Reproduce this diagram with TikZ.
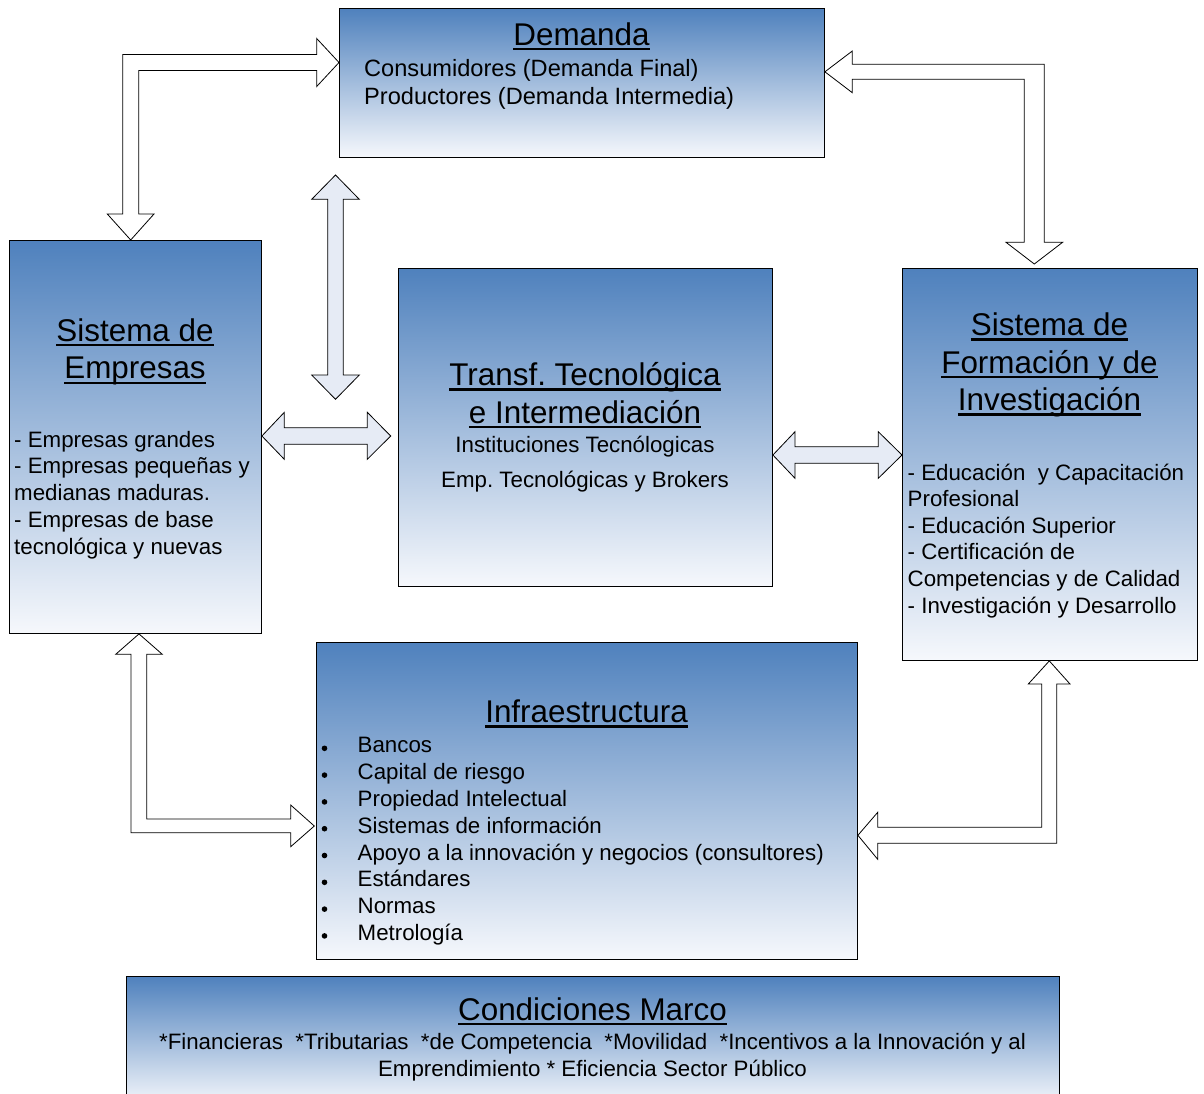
\documentclass[tikz,border=0pt]{standalone}
\usepackage{fontspec}
\setmainfont{Liberation Sans}
\usetikzlibrary{calc}
\definecolor{boxtop}{RGB}{79,129,189}
\definecolor{boxbot}{RGB}{246,248,252}
\definecolor{arrfill}{RGB}{230,235,245}
\newcommand{\ulx}[1]{\setbox0\hbox{#1}\rlap{\rule[-0.16em]{\wd0}{0.065em}}\box0}
\frenchspacing
\tikzset{
  box/.style={draw=black, line width=0.9pt, top color=boxtop, bottom color=boxbot, inner sep=0pt, anchor=north west},
  ttl/.style={font=\fontsize{31.4}{37.6}\selectfont, inner sep=0pt, anchor=base},
  bodyl/.style={font=\fontsize{22.3}{26.8}\selectfont, inner sep=0pt, anchor=base west},
  bodyc/.style={font=\fontsize{22.3}{26.8}\selectfont, inner sep=0pt, anchor=base},
  demb/.style={font=\fontsize{23.6}{28}\selectfont, inner sep=0pt, anchor=base west},
  bentarrow/.style={draw=black, line width=0.8pt, fill=white, line join=miter},
  dblarrow/.style={bentarrow, fill=arrfill},
}
\begin{document}
\begin{tikzpicture}[x=1pt,y=-1pt]
\useasboundingbox (0,0) rectangle (1204,1093);
\fill[white] (0,0) rectangle (1204,1093);

% boxes
\node[box, minimum width=485, minimum height=149] (dem) at (339,8) {};
\node[box, minimum width=252, minimum height=393] (emp) at (9,240) {};
\node[box, minimum width=374, minimum height=318] (tra) at (398,268) {};
\node[box, minimum width=295, minimum height=392] (for) at (902,268) {};
\node[box, minimum width=541, minimum height=317] (inf) at (316,642) {};
\node[box, minimum width=933, minimum height=130] (con) at (126,976) {};

% Demanda
\node[ttl] (demt) at (581.5,45) {\ulx{Demanda}};
\node[demb] (demb1) at (364,76.8) {Consumidores (Demanda Final)};
\node[demb] (demb2) at (364,104.2) {Productores (Demanda Intermedia)};

% Empresas
\node[ttl] (empt1) at (135,341.2) {\ulx{Sistema de}};
\node[ttl] (empt2) at (135,378.8) {\ulx{Empresas}};
\foreach \t [count=\i] in {{- Empresas grandes},{- Empresas pequeñas y},{medianas maduras.},{- Empresas de base},{tecnológica y nuevas}}
  \node[bodyl] (empb\i) at (14,{447.2+26.7*(\i-1)}) {\t};

% Transf
\node[ttl] (trat1) at (585,385.5) {\ulx{Transf. Tecnológica}};
\node[ttl] (trat2) at (585,423.2) {\ulx{e Intermediación}};
\node[bodyc] (trab1) at (585,452.2) {Instituciones Tecnólogicas};
\node[bodyc] (trab2) at (585,487.2) {Emp. Tecnológicas y Brokers};

% Formacion
\node[ttl] (fort1) at (1049.5,335.5) {\ulx{Sistema de}};
\node[ttl] (fort2) at (1049.5,373.2) {\ulx{Formación y de}};
\node[ttl] (fort3) at (1049.5,410.5) {\ulx{Investigación}};
\foreach \t [count=\i] in {{- Educación\ \ y Capacitación},{Profesional},{- Educación Superior},{- Certificación de},{Competencias y de Calidad},{- Investigación y Desarrollo}}
  \node[bodyl] (forb\i) at (907.5,{480+26.6*(\i-1)}) {\t};

% Infraestructura
\node[ttl] (inft) at (586.5,722.5) {\ulx{Infraestructura}};
\foreach \t [count=\i] in {{Bancos},{Capital de riesgo},{Propiedad Intelectual},{Sistemas de información},{Apoyo a la innovación y negocios (consultores)},{Estándares},{Normas},{Metrología}}{
  \node[bodyl] (infb\i) at (357.5,{752.8+26.8*(\i-1)}) {\t};
  \fill (324.5,{752.8+26.8*(\i-1)-4.5}) circle (2.8);
}

% Condiciones
\node[ttl] (cont) at (592.5,1020) {\ulx{Condiciones Marco}};
\node[bodyc] (conb1) at (592.5,1049.5) {*Financieras\ \ *Tributarias\ \ *de Competencia\ \ *Movilidad\ \ *Incentivos a la Innovación y al};
\node[bodyc] (conb2) at (592.5,1076.5) {Emprendimiento * Eficiencia Sector Público};

% bent arrow Empresas <-> Demanda
\draw[bentarrow] (122.7,54.5) -- (316.7,54.5) -- (316.7,38.5) -- (dem.west |- 0,62.5) -- (316.7,86.5) -- (316.7,70.5)
  -- (138.7,70.5) -- (138.7,214) -- (154,214) -- (130.7,0 |- emp.north) -- (107.3,214) -- (122.7,214) -- cycle;
% bent arrow Demanda <-> Formacion
\draw[bentarrow] (1044.3,64.3) -- (852.3,64.3) -- (852.3,51) -- (dem.east |- 0,71.8) -- (852.3,92.7) -- (852.3,79.3)
  -- (1024.3,79.3) -- (1024.3,242.3) -- (1006,242.3) -- (1034.3,264) -- (1062.6,242.3) -- (1044.3,242.3) -- cycle;
% vertical double arrow
\draw[dblarrow] (335.5,175) -- (359.3,199.3) -- (343.3,199.3) -- (343.3,375) -- (359.3,375) -- (335.5,399.3)
  -- (311.7,375) -- (327.7,375) -- (327.7,199.3) -- (311.7,199.3) -- cycle;
% Empresas <-> Transf
\draw[dblarrow] (emp.east |- 0,436) -- (284.3,412.3) -- (284.3,427.7) -- (367.3,427.7) -- (367.3,412.3) -- (390.7,436)
  -- (367.3,459.3) -- (367.3,444.3) -- (284.3,444.3) -- (284.3,459.3) -- cycle;
% Transf <-> Formacion
\draw[dblarrow] (tra.east |- 0,455) -- (795,431.7) -- (795,446.7) -- (878.3,446.7) -- (878.3,431.7) -- (for.west |- 0,455)
  -- (878.3,478.3) -- (878.3,463.3) -- (795,463.3) -- (795,478.3) -- cycle;
% Empresas <-> Infra
\draw[bentarrow] (131,832.7) -- (131,654.3) -- (115.7,654.3) -- (139,0 |- emp.south) -- (162.3,654.3) -- (146.7,654.3)
  -- (146.7,819) -- (290.7,819) -- (290.7,805) -- (314.3,826) -- (290.7,846.7) -- (290.7,832.7) -- cycle;
% Formacion <-> Infra
\draw[bentarrow] (1056.7,843.3) -- (877.7,843.3) -- (877.7,859.3) -- (inf.east |- 0,835.3) -- (877.7,812.3) -- (877.7,827.3)
  -- (1041.7,827.3) -- (1041.7,684) -- (1028.3,684) -- (1049.3,0 |- for.south) -- (1070,684) -- (1056.7,684) -- cycle;
\end{tikzpicture}
\end{document}
